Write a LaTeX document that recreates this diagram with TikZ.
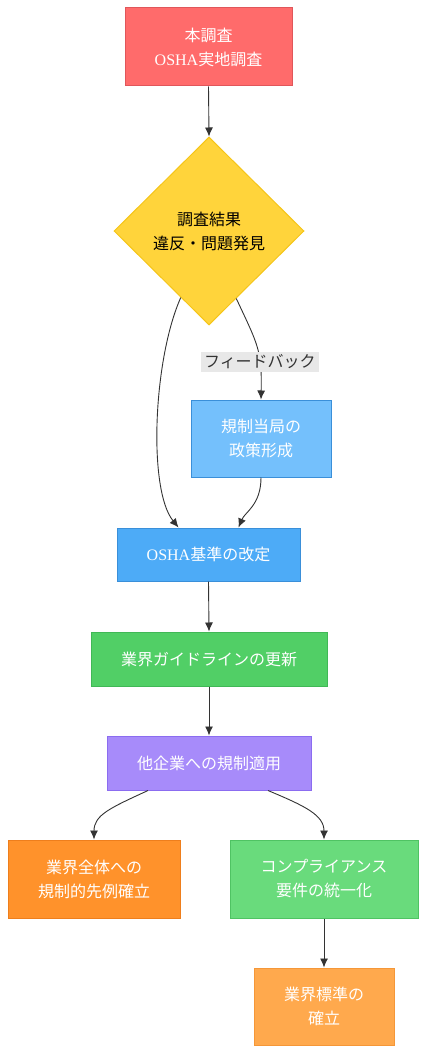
\documentclass[tikz,border=0pt]{standalone}
\usepackage{fontspec}
\setmainfont{Liberation Serif}
\newfontfamily\jp{Noto Sans CJK JP}
\usepackage{tikz}
\usetikzlibrary{shapes.geometric, arrows.meta}
\definecolor{redfill}{HTML}{FF6B6B}
\definecolor{redline}{HTML}{E0565A}
\definecolor{yellowfill}{HTML}{FFD43B}
\definecolor{yellowline}{HTML}{F5C518}
\definecolor{lightbluefill}{HTML}{74C0FC}
\definecolor{bluefill}{HTML}{4DABF7}
\definecolor{blueline}{HTML}{3A8FD9}
\definecolor{greenfill}{HTML}{51CF66}
\definecolor{greenline}{HTML}{40B856}
\definecolor{purplefill}{HTML}{A78BFA}
\definecolor{purpleline}{HTML}{8B6CF0}
\definecolor{orangefill}{HTML}{FF922B}
\definecolor{orangeline}{HTML}{EE7E1C}
\definecolor{lightgreenfill}{HTML}{69DB7C}
\definecolor{lightgreenline}{HTML}{4FC363}
\definecolor{lightorangefill}{HTML}{FFA94D}
\definecolor{lightorangeline}{HTML}{F59738}
\definecolor{edgegray}{HTML}{333333}
\definecolor{labelgray}{HTML}{E8E8E8}

\begin{document}
\begin{tikzpicture}[x=1pt, y=-1pt]
\tikzset{box/.style = {rectangle, draw, line width=1pt, inner sep=0pt, align=center,
                       text=white, font=\jp\fontsize{16}{24}\selectfont},
         edge/.style = {-{Latex[length=9pt,width=8pt]}, draw=edgegray, line width=0.9pt}}
\useasboundingbox (0,0) rectangle (426,1054);
            % vertices
	\node[box, fill=redfill, draw=redline, minimum width=167pt, minimum height=78pt] (survey) at (208.5,47) {本調査\\{\rmfamily OSHA}実地調査};
	\node[diamond, draw=yellowline, fill=yellowfill, line width=1pt, inner sep=0pt, minimum width=190pt, minimum height=188pt,
	      align=center, font=\jp\fontsize{16}{24}\selectfont] (result) at (209,231) {調査結果\\違反・問題発見};
	\node[box, fill=lightbluefill, draw=blueline, minimum width=140pt, minimum height=77pt] (policy) at (261,438.5) {規制当局の\\政策形成};
	\node[box, fill=bluefill, draw=blueline, minimum width=183pt, minimum height=53pt] (osha) at (208.5,554.5) {{\rmfamily OSHA}基準の改定};
	\node[box, fill=greenfill, draw=greenline, minimum width=236pt, minimum height=54pt] (guide) at (209,659) {業界ガイドラインの更新};
	\node[box, fill=purplefill, draw=purpleline, minimum width=204pt, minimum height=54pt] (others) at (209,763) {他企業への規制適用};
	\node[box, fill=orangefill, draw=orangeline, minimum width=172pt, minimum height=78pt] (precedent) at (94,879) {業界全体への\\規制的先例確立};
	\node[box, fill=lightgreenfill, draw=lightgreenline, minimum width=188pt, minimum height=78pt] (comply) at (324,879) {コンプライアンス\\要件の統一化};
	\node[box, fill=lightorangefill, draw=lightorangeline, minimum width=140pt, minimum height=77pt] (standard) at (324,1006.5) {業界標準の\\確立};
            %edges
	\draw[edge] (survey.south) -- (result.north);
	\draw[edge] (result.-113) .. controls (153,360) and (148,490) .. ([xshift=-30pt]osha.north);
	\draw[edge] (result.-68) .. controls (258,345) and (262,350) .. (policy.north)
	      node[pos=0.67, fill=labelgray, text=edgegray, inner sep=3pt, font=\jp\fontsize{16}{18}\selectfont] (feedback) {フィードバック};
	\draw[edge] (policy.south) .. controls (261,505) and (245,512) .. ([xshift=30pt]osha.north);
	\draw[edge] (osha.south) -- (guide.north);
	\draw[edge] (guide.south) -- (others.north);
	\draw[edge] ([xshift=-61pt]others.south) .. controls (110,808) and (94,815) .. (precedent.north);
	\draw[edge] ([xshift=59pt]others.south) .. controls (305,806) and (324,815) .. (comply.north);
	\draw[edge] (comply.south) -- (standard.north);
\end{tikzpicture}
\end{document}
